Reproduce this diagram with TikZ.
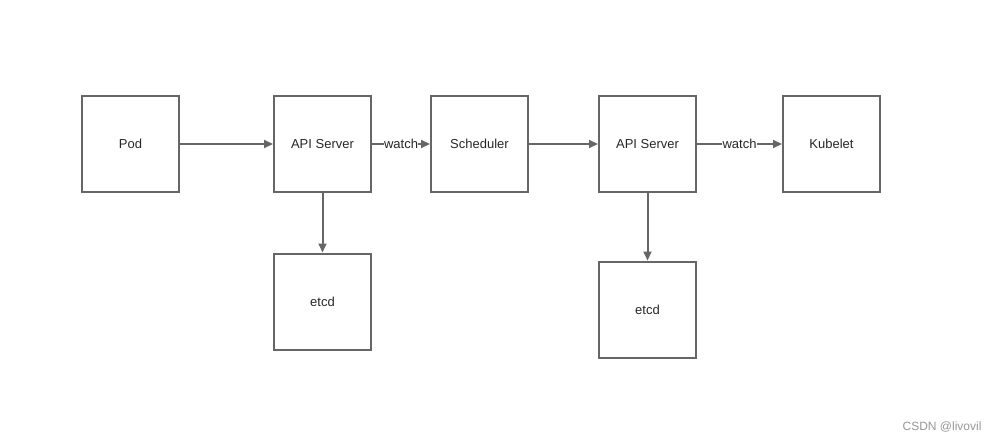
\documentclass[tikz,border=0pt]{standalone}
\usepackage{fontspec}
\setmainfont{Liberation Sans}
\usetikzlibrary{arrows.meta}
\definecolor{boxgray}{RGB}{102,102,102}
\definecolor{marktext}{RGB}{150,150,150}
\tikzset{
	box/.style={draw=boxgray, line width=2pt, minimum width=97pt, minimum height=96pt, font=\fontsize{13}{15}\selectfont, text=black!85},
	flow/.style={draw=boxgray, line width=2pt, -{Triangle[length=9pt, width=8pt]}},
	lbl/.style={fill=white, inner sep=0.5pt, font=\fontsize{13}{15}\selectfont, text=black!85}
}
\begin{document}
\begin{tikzpicture}[x=1pt, y=-1pt]
	\useasboundingbox (0, 0) rectangle (996, 441);

	\node[box] (pod) at (130.5, 144) {Pod};
	\node[box] (api1) at (322.5, 144) {API Server};
	\node[box] (sched) at (479.5, 144) {Scheduler};
	\node[box] (api2) at (647.5, 144) {API Server};
	\node[box] (kubelet) at (831.5, 144) {Kubelet};
	\node[box] (etcd1) at (322.5, 301.5) {etcd};
	\node[box] (etcd2) at (647.5, 309.5) {etcd};

	\draw[flow] (pod) -- (api1);
	\draw[flow] (api1) -- node[lbl] {watch} (sched);
	\draw[flow] (sched) -- (api2);
	\draw[flow] (api2) -- node[lbl] {watch} (kubelet);
	\draw[flow] (api1) -- (etcd1);
	\draw[flow] (api2) -- (etcd2);

	\node[text=marktext, font=\fontsize{12}{14}\selectfont, anchor=east] (mark) at (985, 427) {CSDN @livovil};
\end{tikzpicture}
\end{document}
